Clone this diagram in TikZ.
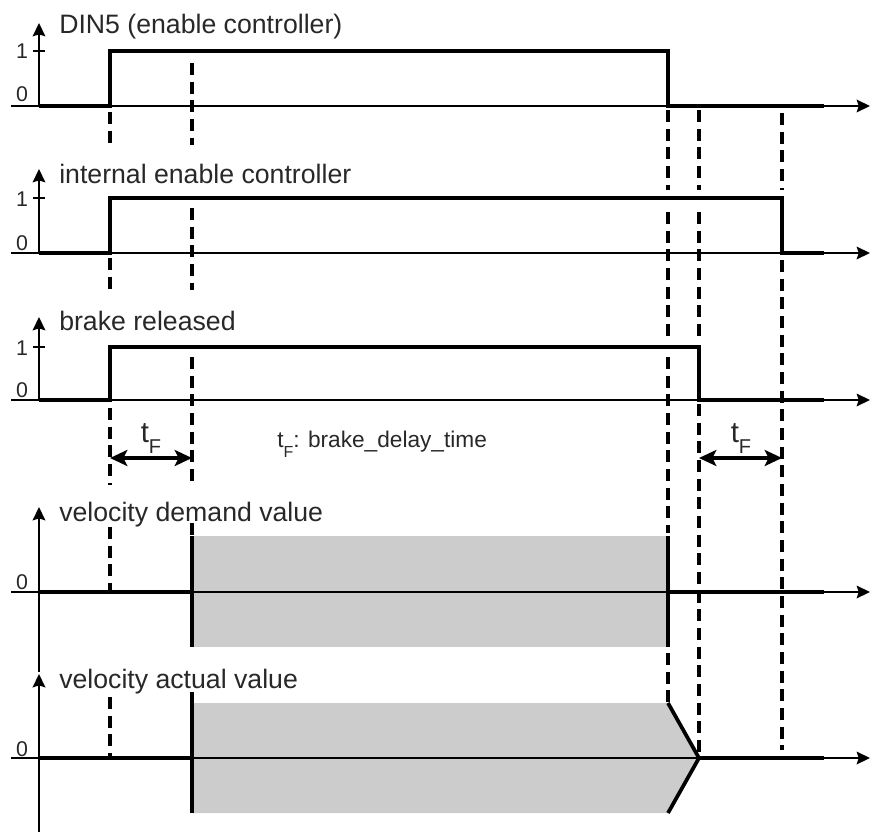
\documentclass[tikz,border=0pt]{standalone}
\usepackage{fontspec}
\setmainfont{Liberation Sans}
\usetikzlibrary{arrows.meta}
\definecolor{fillgray}{RGB}{204,204,204}
\definecolor{txt}{RGB}{40,40,40}
\begin{document}
\begin{tikzpicture}[x=0.75pt,y=-0.75pt,
  axisline/.style={line width=1.3pt},
  sig/.style={line width=2.8pt, line join=miter},
  dsh/.style={line width=2.8pt, dash pattern=on 9pt off 5pt},
  axarrow/.style={-{Stealth[length=10pt,width=9.5pt,inset=1.5pt]}},
  tickmark/.style={line width=1.3pt},
  lbl/.style={font=\fontsize{20}{24}\selectfont, text=txt, anchor=base west, inner sep=0pt},
  dig/.style={font=\fontsize{16}{18}\selectfont, text=txt, anchor=base, inner sep=0pt},
  tfl/.style={font=\fontsize{22}{26}\selectfont, text=txt, anchor=base, inner sep=0pt},
  dimarrow/.style={line width=2.4pt, {Stealth[length=13pt,width=12pt,inset=3pt]}-{Stealth[length=13pt,width=12pt,inset=3pt]}},
]
\useasboundingbox (0,0) rectangle (871,832);

% gray areas
\fill[fillgray] (192,536) rectangle (668,647);
\fill[fillgray] (192,703) -- (668,703) -- (699,758) -- (668,813) -- (192,813) -- cycle;

% horizontal axes
\foreach \yy in {106,253,400,592,758}
  \draw[axisline,axarrow] (11,\yy) -- (870,\yy);

% vertical axes
\draw[axisline,axarrow] (39,106) -- (39,23);
\draw[axisline,axarrow] (39,253) -- (39,169);
\draw[axisline,axarrow] (39,400) -- (39,317);
\draw[axisline,axarrow] (39,672) -- (39,507);
\draw[axisline,axarrow] (39,832) -- (39,674);

% ticks at level 1
\foreach \yy in {51,198,347}
  \draw[tickmark] (33,\yy) -- (45,\yy);

% digit labels
\node[dig] (one1) at (22,58) {1};
\node[dig] (zero1) at (22,101) {0};
\node[dig] (one2) at (22,206) {1};
\node[dig] (zero2) at (22,250) {0};
\node[dig] (one3) at (22,355) {1};
\node[dig] (zero3) at (22,397) {0};
\node[dig] (zero4) at (22,589) {0};
\node[dig] (zero5) at (22,756) {0};

% signal labels
\node[lbl] (ldin) at (59,33) {DIN5 (enable controller)};
\node[lbl] (lint) at (59,183) {internal enable controller};
\node[lbl] (lbrk) at (59,330) {brake released};
\node[lbl] (ldem) at (59,521) {velocity demand value};
\node[lbl] (lact) at (59,688) {velocity actual value};

% signals
\draw[sig] (39,106) -- (110,106) -- (110,51) -- (668,51) -- (668,106) -- (824,106);
\draw[sig] (39,253) -- (110,253) -- (110,198) -- (782,198) -- (782,253) -- (824,253);
\draw[sig] (39,400) -- (110,400) -- (110,347) -- (699,347) -- (699,400) -- (824,400);
\draw[sig] (39,592) -- (192,592);
\draw[sig] (668,592) -- (824,592);
\draw[sig] (192,536) -- (192,647);
\draw[sig] (668,536) -- (668,647);
\draw[sig] (39,758) -- (192,758);
\draw[sig] (699,758) -- (824,758);
\draw[sig] (192,703) -- (192,813);
\draw[sig] (668,703) -- (699,758) -- (668,813);

% dashed guide lines
\foreach \a/\b in {112/148, 258/295, 408/485, 527/592, 697/758}
  \draw[dsh] (110,\a) -- (110,\b);
\foreach \a/\b in {63/145, 208/290, 357/485, 523/536, 692/703}
  \draw[dsh] (192,\a) -- (192,\b);
\foreach \a/\b in {110/190, 212/340, 357/533, 653/703}
  \draw[dsh] (668,\a) -- (668,\b);
\foreach \a/\b in {110/190, 212/340, 404/758}
  \draw[dsh] (699,\a) -- (699,\b);
\foreach \a/\b in {113/190, 260/750}
  \draw[dsh] (782,\a) -- (782,\b);

% delay arrows
\coordinate (la) at (110,458);
\coordinate (lb) at (192,458);
\coordinate (ra) at (699,458);
\coordinate (rb) at (782,458);
\draw[dimarrow] (la) -- (lb);
\draw[dimarrow] (ra) -- (rb);
\node[tfl] (tfl) at (151,442) {t\raisebox{-8.5pt}{\fontsize{15}{17}\selectfont F}};
\node[tfl] (tfr) at (741,442) {t\raisebox{-8.5pt}{\fontsize{15}{17}\selectfont F}};
\node[font=\fontsize{17}{20}\selectfont, text=txt, anchor=base west, inner sep=0pt] (tdef) at (277,447)
  {t\raisebox{-7.5pt}{\fontsize{12}{14}\selectfont F}: brake\_delay\_time};
\end{tikzpicture}
\end{document}
